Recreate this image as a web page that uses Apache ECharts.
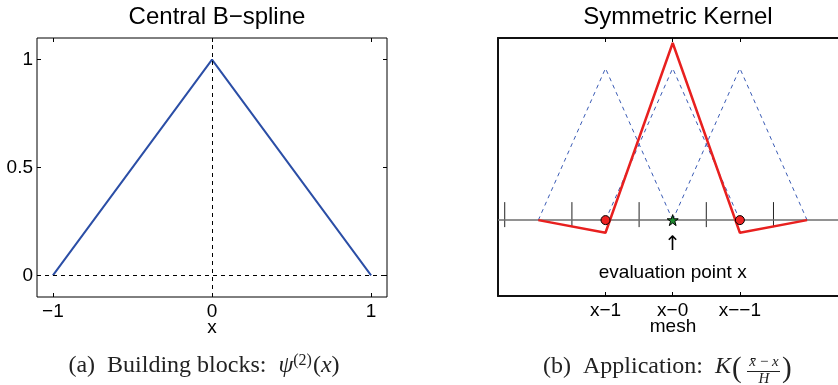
<!DOCTYPE html>
<html>
<head>
<meta charset="utf-8">
<script src="https://cdn.jsdelivr.net/npm/echarts@6/dist/echarts.min.js"></script>
<style>
  html, body { margin: 0; padding: 0; background: #fff; overflow: hidden; }
  #chart { width: 838px; height: 385px; }
</style>
</head>
<body>
<div id="chart"></div>
<script>
// building block (hat function)
const bsplineX = [-1, 0, 1]
const bsplineY = [0, 1, 0]
const bsplineTicksX = [-1, 0, 1]
const bsplineTicksY = [0, 0.5, 1]

// symmetric kernel on the mesh
const meshX = [-2, -1, 0, 1, 2]
const kernelY = [0, -0.083, 1.167, -0.083, 0]
const basisCenters = [-1, 0, 1]
const cellEdges = [-2.5, -1.5, -0.5, 0.5, 1.5]
const neighbourX = [-1, 1]
const evalX = [0]
const meshTicks = [-1, 0, 1]
const meshLabels = ['x\u22121', 'x\u22120', 'x\u2212\u22121']

const SANS = "'Liberation Sans', Arial, sans-serif"
const SERIF = "'Liberation Serif', 'DejaVu Serif', serif"

const chart = echarts.init(document.getElementById('chart'), null, { renderer: 'canvas' })

function minus (v) {
  return v < 0 ? '\u2212' + Math.abs(v) : String(v)
}

// axis lines never sit on zero, they form the frame
function noLine () {
  return { show: false, onZero: false }
}
// frame line of the right panel (no right edge, it runs off the page)
function frame () {
  return { show: true, onZero: false, lineStyle: { color: '#111', width: 2 } }
}

function boxAxis (grid, pos, min, max, ticks, line) {
  return {
    type: 'value',
    gridIndex: grid,
    position: pos,
    min: min,
    max: max,
    axisLine: line || noLine(),
    splitLine: { show: false },
    axisTick: { show: ticks.length > 0, inside: true, length: 4, customValues: ticks, lineStyle: { color: '#000', width: 1 } },
    axisLabel: { show: false }
  }
}

// blue dashed hats centred on neighbouring mesh points
const hatSeries = basisCenters.map(function (c) {
  return {
    type: 'line',
    xAxisIndex: 2,
    yAxisIndex: 2,
    data: bsplineX.map(function (x, i) { return [c + x, bsplineY[i]] }),
    symbol: 'none',
    silent: true,
    z: 2,
    lineStyle: { color: '#3a5bb5', width: 1, type: [4, 4] }
  }
})

const option = {
  backgroundColor: '#fff',
  animation: false,
  textStyle: { fontFamily: SANS },
  title: [
    { text: 'Central B\u2212spline', left: 212, top: 0, textAlign: 'center', textStyle: { fontFamily: SANS, fontSize: 24, fontWeight: 'normal', color: '#000' } },
    { text: 'Symmetric Kernel', left: 673, top: 0, textAlign: 'center', textStyle: { fontFamily: SANS, fontSize: 24, fontWeight: 'normal', color: '#000' } }
  ],
  grid: [
    { left: 37, top: 38, width: 350, height: 259, outerBoundsMode: 'none', show: true, borderColor: '#000', borderWidth: 1, backgroundColor: 'transparent' },
    // the panel is cut by the page edge: x runs from -2.6 to 2.49 here
    { left: 498, top: 38, width: 342, height: 258, outerBoundsMode: 'none', show: false }
  ],
  xAxis: [
    {
      type: 'value',
      gridIndex: 0,
      min: -1.1,
      max: 1.1,
      name: 'x',
      nameLocation: 'middle',
      nameGap: 21,
      nameMoveOverlap: false,
      nameTextStyle: { fontFamily: SANS, fontSize: 19, color: '#000' },
      axisLine: noLine(),
      splitLine: { show: false },
      axisTick: { inside: true, length: 4, customValues: bsplineTicksX, lineStyle: { color: '#000' } },
      axisLabel: { customValues: bsplineTicksX, formatter: minus, margin: 5, fontFamily: SANS, fontSize: 19, color: '#000' }
    },
    boxAxis(0, 'top', -1.1, 1.1, bsplineTicksX),
    {
      type: 'value',
      gridIndex: 1,
      min: -2.6,
      max: 2.49,
      name: 'mesh',
      nameLocation: 'start',
      nameGap: -175,
      nameMoveOverlap: false,
      nameTextStyle: { fontFamily: SANS, fontSize: 19, color: '#000', align: 'center', verticalAlign: 'top', padding: [21, 0, 0, 0] },
      axisLine: frame(),
      splitLine: { show: false },
      axisTick: { inside: true, length: 4, customValues: meshTicks, lineStyle: { color: '#000' } },
      axisLabel: {
        customValues: meshTicks,
        formatter: function (v) { return meshLabels[meshTicks.indexOf(v)] },
        margin: 5,
        fontFamily: SANS,
        fontSize: 19,
        color: '#000'
      }
    },
    boxAxis(1, 'top', -2.6, 2.49, meshTicks, frame())
  ],
  yAxis: [
    {
      type: 'value',
      gridIndex: 0,
      position: 'left',
      min: -0.1,
      max: 1.1,
      axisLine: noLine(),
      splitLine: { show: false },
      axisTick: { inside: true, length: 4, customValues: bsplineTicksY, lineStyle: { color: '#000' } },
      axisLabel: { customValues: bsplineTicksY, margin: 4, fontFamily: SANS, fontSize: 19, color: '#000' }
    },
    boxAxis(0, 'right', -0.1, 1.1, bsplineTicksY),
    boxAxis(1, 'left', -0.5, 1.2, [], frame())
  ],
  series: [
    {
      name: 'B-spline',
      type: 'line',
      xAxisIndex: 0,
      yAxisIndex: 0,
      data: bsplineX.map(function (x, i) { return [x, bsplineY[i]] }),
      symbol: 'none',
      z: 3,
      lineStyle: { color: '#2b4ea6', width: 2 },
      markLine: {
        silent: true,
        symbol: 'none',
        label: { show: false },
        lineStyle: { color: '#000', width: 1, type: [4, 4] },
        data: [{ xAxis: 0 }, { yAxis: 0 }]
      }
    }
  ].concat(hatSeries).concat([
    {
      name: 'mesh cells',
      type: 'custom',
      xAxisIndex: 2,
      yAxisIndex: 2,
      data: cellEdges.map(function (t) { return [t, 0] }),
      silent: true,
      z: 4,
      renderItem: function (params, api) {
        const p = api.coord([api.value(0), api.value(1)])
        return {
          type: 'line',
          shape: { x1: p[0], y1: p[1] - 18, x2: p[0], y2: p[1] + 7 },
          style: { stroke: '#222', lineWidth: 1 }
        }
      }
    },
    {
      name: 'kernel',
      type: 'line',
      xAxisIndex: 2,
      yAxisIndex: 2,
      data: meshX.map(function (x, i) { return [x, kernelY[i]] }),
      symbol: 'none',
      z: 5,
      lineStyle: { color: '#e8201f', width: 2.5 },
      markLine: {
        silent: true,
        symbol: 'none',
        label: { show: false },
        lineStyle: { color: '#6e6e6e', width: 1.5, type: 'solid' },
        data: [{ yAxis: 0 }]
      },
      markPoint: {
        silent: true,
        symbol: 'circle',
        symbolSize: 0,
        label: { show: true, position: 'inside', color: '#000', fontFamily: SANS },
        data: [
          { coord: [0, -0.165], label: { formatter: '\u2191', fontSize: 20, fontFamily: "'DejaVu Sans', sans-serif" } },
          { coord: [0, -0.35], label: { formatter: 'evaluation point x', fontSize: 19 } }
        ]
      }
    },
    {
      name: 'neighbours',
      type: 'scatter',
      xAxisIndex: 2,
      yAxisIndex: 2,
      data: neighbourX.map(function (x) { return [x, 0] }),
      symbol: 'circle',
      symbolSize: 9,
      z: 6,
      itemStyle: { color: '#ee2222', borderColor: '#000', borderWidth: 1, opacity: 1 }
    },
    {
      name: 'evaluation',
      type: 'scatter',
      xAxisIndex: 2,
      yAxisIndex: 2,
      data: evalX.map(function (x) { return [x, 0] }),
      symbol: 'path://M50,0 L61.8,35.4 L97.6,35.4 L68.8,57.3 L79.4,92.7 L50,70.8 L20.6,92.7 L31.2,57.3 L2.4,35.4 L38.2,35.4 Z',
      symbolSize: 11,
      z: 6,
      itemStyle: { color: '#1d8a2e', borderColor: '#000', borderWidth: 1, opacity: 1 }
    }
  ]),
  graphic: [
    {
      type: 'text',
      x: 204,
      y: 366,
      style: {
        text: '(a)  Building blocks:  {i|\u03c8}{s|(2)}({i|x})',
        fontFamily: SERIF,
        fontSize: 24,
        fill: '#222',
        align: 'center',
        verticalAlign: 'middle',
        rich: {
          i: { fontFamily: SERIF, fontSize: 24, fontStyle: 'italic', fill: '#222' },
          s: { fontFamily: SERIF, fontSize: 16, fill: '#222', verticalAlign: 'top', padding: [0, 1, 11, 0] }
        }
      }
    },
    {
      type: 'group',
      children: [
        {
          type: 'text',
          x: 731,
          y: 367,
          style: {
            text: '(b)  Application:  {i|K}',
            fontFamily: SERIF,
            fontSize: 24,
            fill: '#222',
            align: 'right',
            verticalAlign: 'middle',
            rich: { i: { fontFamily: SERIF, fontSize: 24, fontStyle: 'italic', fill: '#222' } }
          }
        },
        { type: 'text', x: 732, y: 369, style: { text: '(', fontFamily: SERIF, fontSize: 29, fill: '#222', align: 'left', verticalAlign: 'middle' } },
        { type: 'text', x: 764, y: 362, style: { text: 'x\u0304\u2009\u2212\u2009x', fontFamily: SERIF, fontSize: 15, fontStyle: 'italic', fill: '#222', align: 'center', verticalAlign: 'middle' } },
        { type: 'line', shape: { x1: 747, y1: 371.5, x2: 780, y2: 371.5 }, style: { stroke: '#222', lineWidth: 1 } },
        { type: 'text', x: 764, y: 379, style: { text: 'H', fontFamily: SERIF, fontSize: 15, fontStyle: 'italic', fill: '#222', align: 'center', verticalAlign: 'middle' } },
        { type: 'text', x: 782, y: 369, style: { text: ')', fontFamily: SERIF, fontSize: 29, fill: '#222', align: 'left', verticalAlign: 'middle' } }
      ]
    }
  ]
}

chart.setOption(option)
</script>
</body>
</html>
